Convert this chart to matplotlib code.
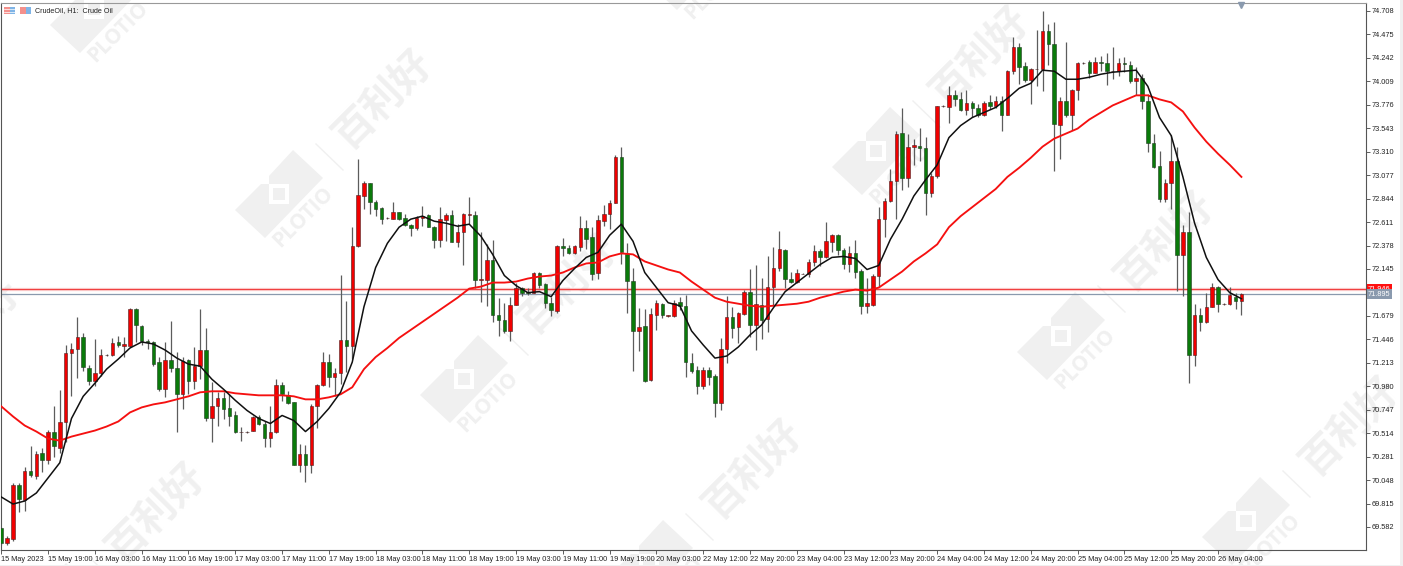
import numpy as np
import matplotlib
matplotlib.use("Agg")
from matplotlib import pyplot as plt
from matplotlib.patches import Polygon, Rectangle

plt.rcParams['font.family'] = ['Liberation Sans', 'DejaVu Sans']

# hourly candles
opens = [69.57,69.42,69.46,70.00,69.85,70.14,70.09,70.32,70.25,70.53,70.37,70.62,71.31,71.35,71.47,71.16,71.03,71.11,71.29,71.29,
         71.42,71.38,71.38,71.75,71.58,71.43,71.42,71.22,70.95,71.24,71.16,70.90,71.24,71.03,71.18,71.34,70.66,70.78,70.86,70.76,
         70.69,70.53,70.53,70.54,70.67,70.61,70.47,70.53,70.99,70.89,70.82,70.20,70.31,70.20,70.78,70.99,71.22,71.07,71.11,71.44,
         71.38,72.37,72.87,73.00,72.81,72.75,72.65,72.64,72.71,72.65,72.58,72.55,72.65,72.68,72.56,72.43,72.63,72.68,72.41,72.51,
         72.68,72.68,72.04,72.04,72.23,71.69,71.64,71.53,71.79,71.96,71.92,71.91,72.11,72.00,71.81,71.73,72.37,72.35,72.30,72.36,
         72.55,72.46,72.11,72.62,72.69,72.80,73.26,72.29,72.03,71.53,71.58,71.04,71.69,71.80,71.68,71.68,71.82,71.78,71.21,71.14,
         70.98,71.14,71.08,70.81,71.35,71.67,71.57,71.70,71.92,71.59,71.79,71.65,71.97,72.15,72.33,72.05,72.02,72.10,72.10,72.21,
         72.32,72.26,72.41,72.48,72.33,72.19,72.30,72.13,71.78,71.79,72.08,72.64,72.82,73.02,73.50,73.05,73.36,73.37,73.35,72.90,
         73.07,73.76,73.75,73.87,73.83,73.72,73.79,73.74,73.67,73.80,73.76,73.81,73.67,74.11,74.35,74.16,74.02,74.13,74.13,74.51,
         74.38,73.58,73.81,73.67,73.92,74.19,74.20,74.09,74.20,74.19,74.11,74.11,74.19,74.17,74.01,74.04,73.81,73.40,73.17,72.84,
         73.00,73.22,72.28,72.51,71.29,71.69,71.62,71.77,71.97,71.80,71.80,71.87,71.83]
highs = [69.58,69.49,70.02,70.02,70.18,70.39,70.34,70.37,70.55,70.78,70.94,71.39,71.41,71.67,71.51,71.19,71.45,71.35,71.30,71.46,
         71.48,71.47,71.76,71.76,71.59,71.45,71.43,71.27,71.42,71.63,71.32,71.27,71.25,71.37,71.75,71.56,71.02,70.92,70.92,70.90,
         70.73,70.58,70.54,70.68,70.69,70.63,70.78,71.05,71.02,70.93,70.82,70.41,70.40,70.80,71.00,71.32,71.30,71.16,72.09,71.83,
         72.56,73.24,73.02,73.00,72.83,72.76,72.66,72.81,72.71,72.69,72.59,72.67,72.77,72.69,72.57,72.76,72.70,72.73,72.59,72.70,
         72.86,72.72,72.51,72.39,72.43,71.86,71.81,71.87,72.01,71.97,71.96,72.12,72.12,72.01,71.87,72.38,72.45,72.38,72.38,72.67,
         72.63,72.56,72.68,72.78,72.83,73.28,73.36,72.40,72.15,71.76,71.75,71.76,71.84,71.81,71.69,71.84,71.87,71.89,71.31,71.18,
         71.17,71.17,71.10,71.46,71.88,71.77,71.72,71.94,72.14,72.18,72.06,72.27,72.36,72.52,72.34,72.12,72.14,72.11,72.24,72.38,
         72.34,72.61,72.49,72.49,72.35,72.37,72.43,72.14,72.06,72.10,72.76,72.85,73.14,73.52,73.74,73.49,73.44,73.55,73.46,73.10,
         73.76,73.77,73.96,73.92,73.90,73.92,73.81,73.78,73.81,73.87,73.86,73.86,74.12,74.45,74.39,74.20,74.14,74.52,74.71,74.58,
         74.60,73.85,74.40,73.93,74.20,74.20,74.22,74.25,74.26,74.29,74.35,74.24,74.25,74.21,74.15,74.08,73.88,73.49,73.32,73.04,
         73.48,73.36,72.58,72.71,71.80,71.76,71.91,72.01,71.98,71.81,71.97,71.91,71.91]
lows = [69.40,69.40,69.44,69.73,69.74,70.08,70.06,70.13,70.21,70.28,70.32,70.43,70.88,71.06,71.13,70.99,70.98,71.08,71.28,71.28,
        71.37,71.27,71.37,71.42,71.39,71.35,71.18,70.93,70.87,71.12,70.53,70.75,70.90,70.95,71.05,70.63,70.43,70.59,70.65,70.59,
        70.52,70.44,70.52,70.54,70.60,70.38,70.38,70.52,70.83,70.80,70.20,70.13,70.03,70.12,70.57,70.98,70.97,70.88,71.00,71.12,
        71.25,72.36,72.74,72.69,72.67,72.59,72.64,72.64,72.63,72.57,72.47,72.53,72.57,72.56,72.35,72.36,72.42,72.41,72.36,72.18,
        72.59,71.96,71.82,71.78,71.62,71.48,71.51,71.43,71.79,71.88,71.89,71.91,71.96,71.76,71.68,71.71,72.27,72.29,72.29,72.32,
        72.34,72.04,72.05,72.57,72.54,72.80,72.19,71.71,71.13,71.33,71.02,71.03,71.54,71.66,71.67,71.67,71.74,71.07,71.11,70.90,
        70.95,70.99,70.67,70.74,71.21,71.46,71.41,71.69,71.47,71.34,71.45,71.52,71.79,72.13,71.96,72.01,72.01,72.10,72.07,72.17,
        72.17,72.25,72.31,72.28,72.14,72.12,72.06,71.70,71.71,71.78,71.97,72.46,72.81,72.64,72.93,72.96,73.18,73.22,72.68,72.86,
        73.05,73.75,73.60,73.76,73.71,73.67,73.65,73.65,73.66,73.73,73.74,73.52,73.67,74.08,73.98,74.00,73.78,73.96,73.91,74.17,
        73.12,73.24,73.65,73.53,73.82,74.18,74.04,74.09,74.11,73.97,74.03,74.06,74.10,73.99,73.87,73.73,73.31,73.15,72.81,72.81,
        72.74,71.93,71.88,71.01,71.18,71.53,71.61,71.77,71.72,71.79,71.79,71.75,71.69]
closes = [69.42,69.47,70.00,69.86,70.14,70.10,70.31,70.25,70.53,70.39,70.62,71.31,71.35,71.47,71.17,71.03,71.11,71.29,71.29,71.41,
          71.39,71.40,71.75,71.59,71.43,71.42,71.20,70.95,71.24,71.16,70.90,71.23,71.03,71.18,71.34,70.66,70.78,70.86,70.75,70.68,
          70.53,70.53,70.53,70.67,70.61,70.47,70.53,70.99,70.90,70.81,70.20,70.31,70.20,70.78,70.99,71.22,71.07,71.11,71.44,71.38,
          72.37,72.88,73.00,72.81,72.74,72.64,72.65,72.71,72.64,72.58,72.55,72.65,72.67,72.56,72.43,72.64,72.68,72.41,72.51,72.69,
          72.69,72.04,72.05,72.23,71.69,71.64,71.53,71.79,71.96,71.91,71.91,72.11,71.99,71.81,71.74,72.37,72.35,72.30,72.37,72.55,
          72.44,72.10,72.63,72.69,72.80,73.26,72.31,72.03,71.53,71.57,71.03,71.70,71.81,71.69,71.69,71.81,71.78,71.22,71.13,70.98,
          71.14,71.07,70.81,71.35,71.67,71.56,71.71,71.92,71.59,71.80,71.64,71.97,72.15,72.34,72.05,72.02,72.11,72.10,72.21,72.32,
          72.26,72.42,72.48,72.33,72.19,72.30,72.12,71.78,71.81,72.08,72.64,72.82,73.02,73.49,73.05,73.36,73.38,73.35,72.90,73.07,
          73.76,73.76,73.87,73.83,73.72,73.79,73.74,73.67,73.79,73.76,73.81,73.67,74.11,74.35,74.15,74.02,74.13,74.13,74.51,74.38,
          73.59,73.81,73.67,73.92,74.19,74.19,74.09,74.20,74.19,74.11,74.11,74.19,74.18,74.01,74.04,73.81,73.40,73.16,72.84,73.00,
          73.22,72.28,72.51,71.29,71.69,71.62,71.77,71.97,71.80,71.80,71.89,71.83,71.90]

# moving averages, both read at every 2nd bar
ma_fast = [69.88,69.81,69.84,69.92,70.07,70.22,70.66,70.88,71.01,71.15,71.25,71.36,71.42,71.40,71.34,71.26,71.20,71.18,71.05,70.95,
           70.84,70.74,70.66,70.61,70.69,70.64,70.53,70.63,70.76,70.92,71.22,71.77,72.16,72.40,72.56,72.64,72.67,72.62,72.60,72.57,
           72.59,72.47,72.29,72.08,71.98,71.91,71.92,71.87,72.03,72.15,72.26,72.31,72.48,72.59,72.42,72.11,71.96,71.81,71.78,71.53,
           71.39,71.26,71.28,71.37,71.49,71.59,71.76,71.92,72.01,72.10,72.19,72.26,72.27,72.25,72.14,72.18,72.44,72.64,72.87,73.03,
           73.18,73.45,73.57,73.65,73.70,73.75,73.84,73.94,73.99,74.12,74.11,74.03,74.03,74.05,74.08,74.10,74.11,74.12,73.96,73.65,
           73.47,73.06,72.60,72.26,72.04,71.91,71.85]
ma_slow = [70.78,70.68,70.59,70.53,70.46,70.44,70.48,70.51,70.54,70.58,70.63,70.72,70.77,70.80,70.82,70.85,70.88,70.92,70.93,70.93,
           70.91,70.90,70.89,70.89,70.89,70.88,70.85,70.85,70.87,70.90,70.97,71.15,71.27,71.36,71.46,71.54,71.62,71.70,71.78,71.86,
           71.95,71.97,72.01,72.01,72.02,72.05,72.07,72.08,72.11,72.16,72.20,72.21,72.27,72.30,72.29,72.22,72.18,72.14,72.11,72.02,
           71.94,71.86,71.82,71.80,71.78,71.77,71.78,71.79,71.80,71.82,71.86,71.89,71.92,71.94,71.93,71.96,72.04,72.12,72.22,72.30,
           72.39,72.56,72.67,72.76,72.85,72.94,73.06,73.15,73.25,73.36,73.44,73.49,73.54,73.63,73.70,73.77,73.82,73.87,73.87,73.83,
           73.80,73.71,73.55,73.41,73.29,73.18,73.06]

ask_price = 71.946
bid_price = 71.895

date_labels = ['15 May 2023','15 May 19:00','16 May 03:00','16 May 11:00','16 May 19:00','17 May 03:00','17 May 11:00',
               '17 May 19:00','18 May 03:00','18 May 11:00','18 May 19:00','19 May 03:00','19 May 11:00','19 May 19:00',
               '20 May 03:00','22 May 12:00','22 May 20:00','23 May 04:00','23 May 12:00','23 May 20:00','24 May 04:00',
               '24 May 12:00','24 May 20:00','25 May 04:00','25 May 12:00','25 May 20:00','26 May 04:00']
price_ticks = [74.708,74.475,74.242,74.009,73.776,73.543,73.310,73.077,72.844,72.611,72.378,72.145,
               71.679,71.446,71.213,70.980,70.747,70.514,70.281,70.048,69.815,69.582]

W, H = 1403, 566
fig = plt.figure(figsize=(W/100, H/100), dpi=100, facecolor='white')

# background layer in pixels: watermark, header icons
bg = fig.add_axes([0, 0, 1, 1], zorder=0)
bg.set_xlim(0, W)
bg.set_ylim(H, 0)
bg.axis('off')
mark = '#f0f0f0'
logo = [(-44,16),(-18,-10),(-10,-10),(-10,-18),(14,-44),(44,-16),(-14,44)]
for cx, cy in [(94,9),(279,194),(464,379),(649,564),(691,-34),(876,151),(1061,336),(1246,521),(-133,422),(52,607)]:
    bg.add_patch(Polygon([(cx+a, cy+b) for a, b in logo], color=mark, lw=0))
    bg.add_patch(Rectangle((cx-10,cy-10), 20, 20, color='white', lw=0))
    bg.add_patch(Rectangle((cx-6,cy-6), 12, 12, color=mark, lw=0))
    bg.plot([cx+37,cx+64], [cy-50,cy-24], color=mark, lw=1)
    bg.text(cx+24, cy+23, 'PLOTIO', color=mark, fontsize=15, fontweight='bold', rotation=45,
            rotation_mode='anchor', ha='center', va='center', family=['Open Sans','DejaVu Sans'])
    bg.text(cx+104, cy-95, '百利好', color=mark, fontsize=29, fontweight='bold', rotation=45,
            rotation_mode='anchor', ha='center', va='center', family=['Noto Sans CJK SC','DejaVu Sans'])
bg.add_patch(Rectangle((0,565), W, 1, color='#f0f0f0', lw=0))
bg.add_patch(Rectangle((1400,0), 3, H, color='#f0f0f0', lw=0))
for x0 in [4, 20]:
    bg.add_patch(Rectangle((x0,7), 5.5, 7, color='#f4908c', lw=0))
    bg.add_patch(Rectangle((x0+5.5,7), 5.5, 7, color='#7fb4e6', lw=0))
for yy in [9.3, 11.7]:
    bg.plot([4,15], [yy,yy], color='white', lw=0.5)
bg.text(35, 10.5, 'CrudeOil, H1:  Crude Oil', fontsize=5.1, color='#222222', va='center', ha='left')

ax = fig.add_axes([1/W, 1-550/H, 1365/W, 547/H], zorder=1)
ax.patch.set_alpha(0)

o = np.array(opens)
h = np.array(highs)
l = np.array(lows)
c = np.array(closes)
xs = np.arange(len(o))
up = c >= o

ax.vlines(xs, l, h, color='#5c5c5c', lw=0.9, zorder=2)
ax.bar(xs[up], (c-o)[up], bottom=o[up], width=0.6, color='#f00000', edgecolor='#4a2020', lw=0.4, zorder=3)
ax.bar(xs[~up], (o-c)[~up], bottom=c[~up], width=0.6, color='#0a7a0a', edgecolor='#203a20', lw=0.4, zorder=3)

ax.plot(np.arange(len(ma_slow))*2, ma_slow, color='#f51010', lw=1.35, zorder=4)
ax.plot(np.arange(len(ma_fast))*2, ma_fast, color='#101010', lw=1.1, zorder=5)

ax.axhline(ask_price, color='#f04040', lw=0.9, zorder=1)
ax.axhline(ask_price, color='#f04040', lw=2.4, alpha=0.2, zorder=1)
ax.axhline(bid_price, color='#8a9aae', lw=0.9, zorder=1)

ax.set_xlim(-0.05, 233.3)
ax.set_ylim(74.708-539/100.66, 74.708+8/100.66)

ax.set_xticks(np.arange(len(date_labels))*8)
ax.set_xticklabels(date_labels, ha='left')
ax.yaxis.tick_right()
ax.set_yticks(price_ticks)
ax.set_yticklabels(['%.3f' % v for v in price_ticks])
ax.tick_params(axis='x', length=3, width=0.6, color='#444444', labelsize=5.3, labelcolor='#222222', pad=1)
ax.tick_params(axis='y', length=3, width=0.6, color='#444444', labelsize=5.3, labelcolor='#222222', pad=1)
for s in ax.spines.values():
    s.set_color('#555555')
    s.set_linewidth(0.8)
ax.spines['top'].set_color('#999999')

trans = ax.get_yaxis_transform()
ax.text(1.0015, ask_price, '%.3f' % ask_price, transform=trans, fontsize=5.3, color='white', va='center', ha='left',
        bbox=dict(fc='#ff1010', ec='none', pad=1), zorder=6, clip_on=False)
ax.text(1.0015, bid_price, '%.3f' % bid_price, transform=trans, fontsize=5.3, color='white', va='center', ha='left',
        bbox=dict(fc='#8a9aae', ec='none', pad=1), zorder=7, clip_on=False)
ax.plot([len(o)-1], [74.708+6/100.66], marker='v', ms=5, color='#8a9aae', clip_on=False, zorder=6)

fig.savefig('out.png', dpi=100)
